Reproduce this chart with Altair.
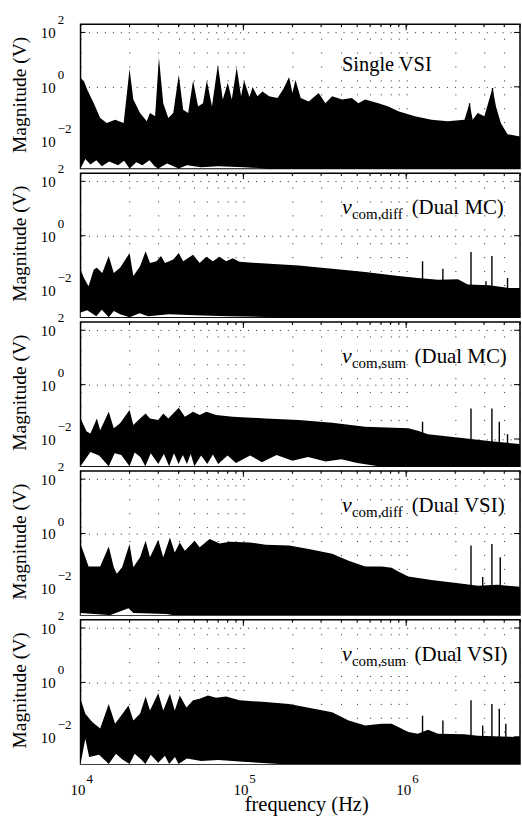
import altair as alt
import pandas as pd

# ---------------- data ----------------
# Panel 1: Single VSI (upper envelope of the spectrum)
p1_f = [10000, 10500, 11000, 12060, 13200, 14500, 16300, 18400, 20000, 21100, 23200, 25500,
        26700, 28700, 30300, 32200, 34600, 37100, 40100, 42700, 45800, 49100, 52700, 56500,
        59700, 64100, 69700, 74800, 80200, 84900, 91000, 96800, 101000, 109000, 114000, 122000,
        131000, 144000, 162000, 175000, 191000, 200000, 209000, 225000, 252000, 290000, 319000,
        351000, 404000, 464000, 509000, 560000, 675000, 777000, 894000, 1130000, 1430000,
        1800000, 2280000, 2450000, 2560000, 2750000, 3020000, 3390000, 3560000, 3810000,
        4190000, 5000000]
p1_hi = [2.1, 1.6, 0.78, 0.25, 0.072, 0.047, 0.062, 0.047, 4.5, 0.34, 0.11, 0.054,
         0.11, 0.083, 12, 0.25, 0.072, 0.11, 2.8, 0.145, 0.11, 1.7, 0.19, 0.25,
         1.7, 0.19, 6.5, 0.34, 1.4, 0.34, 5.2, 0.45, 1.7, 0.42, 0.98, 0.45,
         0.68, 0.45, 0.39, 0.78, 2.3, 0.59, 1.8, 0.39, 0.29, 0.59, 0.25,
         0.45, 0.34, 0.39, 0.25, 0.34, 0.25, 0.19, 0.126, 0.083, 0.062,
         0.054, 0.062, 0.25, 0.062, 0.11, 0.083, 0.9, 0.19, 0.047,
         0.018, 0.015]
p1_lo_f = [10000, 10700, 11500, 12500, 13500, 15000, 17000, 18500, 20000, 22000, 24000, 26500,
           28500, 30000, 34000, 40000, 45000, 55000, 70000, 100000, 140000]
p1_lo = [0.001, 0.0022, 0.0014, 0.002, 0.0012, 0.0018, 0.0013, 0.0019, 0.001, 0.0017, 0.0013, 0.002,
         0.0012, 0.001, 0.0015, 0.001, 0.0013, 0.0011, 0.0012, 0.0011, 0.001]
p1_sp_f = [2450000, 3390000]
p1_sp = [0.25, 0.9]

# Panel 2: v_com,diff (Dual MC)
p2_f = [10000, 10500, 11200, 12060, 12600, 13600, 14900, 16000, 17500, 20000, 21100, 23200,
        25100, 26700, 29300, 31200, 33000, 37100, 40100, 42700, 49100, 53900, 59200, 65000,
        71400, 78400, 86100, 94600, 137000, 219000, 351000, 560000, 894000, 1180000, 1570000,
        2080000, 2390000, 3240000, 4290000, 5000000]
p2_hi = [0.057, 0.028, 0.014, 0.057, 0.066, 0.043, 0.18, 0.043, 0.066, 0.23, 0.033, 0.076,
         0.27, 0.1, 0.116, 0.18, 0.1, 0.133, 0.23, 0.116, 0.2, 0.1, 0.17, 0.116,
         0.17, 0.116, 0.15, 0.11, 0.095, 0.08, 0.061, 0.046, 0.033, 0.028, 0.024,
         0.025, 0.016, 0.015, 0.012, 0.012]
p2_lo_f = [10000, 11000, 12500, 13500, 14900, 16000, 17500, 20000, 23000, 26000, 35000, 50000, 80000, 166000]
p2_lo = [0.0015, 0.0018, 0.0011, 0.0019, 0.001, 0.0017, 0.0013, 0.001, 0.0014, 0.0011, 0.0013, 0.0012, 0.0011, 0.001]
p2_sp_f = [1260000, 1680000, 2500000, 3090000, 3360000, 4190000]
p2_sp = [0.116, 0.061, 0.25, 0.021, 0.18, 0.028]

# Panel 3: v_com,sum (Dual MC)
p3_f = [10000, 10900, 11500, 12600, 13200, 14900, 16000, 17500, 20000, 21100, 23200, 25100,
        26700, 30000, 32200, 34600, 40100, 43700, 49100, 53900, 59200, 68100, 86100, 137000,
        219000, 351000, 560000, 1030000, 1180000, 1360000, 2280000, 2750000, 3310000, 5000000]
p3_hi = [0.057, 0.019, 0.016, 0.057, 0.021, 0.1, 0.025, 0.038, 0.116, 0.033, 0.057, 0.087,
         0.057, 0.05, 0.087, 0.057, 0.14, 0.066, 0.1, 0.076, 0.1, 0.076, 0.066, 0.057,
         0.05, 0.04, 0.028, 0.025, 0.02, 0.015, 0.0106, 0.0094, 0.0083, 0.0065]
p3_lo_f = [10000, 11500, 13000, 14900, 16200, 17800, 20000, 21500, 23300, 25000, 27000, 30000,
           32500, 35000, 37500, 40000, 42500, 45000, 47500, 50000, 55000, 60000, 65000, 70000,
           80000, 90000, 110000, 130000, 160000, 200000, 250000, 320000, 400000, 500000, 675000]
p3_lo = [0.001, 0.0033, 0.0025, 0.001, 0.003, 0.0026, 0.001, 0.0032, 0.0022, 0.001, 0.003, 0.0012,
         0.0028, 0.001, 0.003, 0.0012, 0.0026, 0.0012, 0.0028, 0.001, 0.0025, 0.0012, 0.0027, 0.0012,
         0.0025, 0.0013, 0.0025, 0.0014, 0.0026, 0.0016, 0.0022, 0.0015, 0.0018, 0.0013, 0.001]
p3_sp_f = [1260000, 2500000, 3360000, 3730000, 4190000]
p3_sp = [0.043, 0.133, 0.133, 0.043, 0.015]

# Panel 4: v_com,diff (Dual VSI)
p4_f = [10000, 10700, 11200, 13200, 14900, 16000, 16700, 18000, 20000, 21100, 23200, 25100,
        26700, 30000, 32200, 35400, 37900, 40700, 43700, 50200, 53900, 62100, 71400, 82200,
        109000, 137000, 191000, 252000, 351000, 443000, 560000, 708000, 814000, 894000,
        1030000, 1430000, 2280000, 2750000, 3640000, 5000000]
p4_hi = [0.41, 0.133, 0.061, 0.061, 0.33, 0.057, 0.033, 0.057, 0.41, 0.057, 0.133, 0.54,
         0.133, 0.59, 0.133, 0.72, 0.2, 0.47, 0.23, 0.54, 0.31, 0.63, 0.43, 0.5,
         0.47, 0.39, 0.36, 0.27, 0.18, 0.1, 0.061, 0.061, 0.055, 0.04,
         0.026, 0.0195, 0.014, 0.012, 0.013, 0.011]
p4_lo_f = [10000, 15200, 19700, 21100, 33700, 37100]
p4_lo = [0.0012, 0.001, 0.0018, 0.0012, 0.0011, 0.001]
p4_sp_f = [2500000, 2950000, 3360000, 3780000]
p4_sp = [0.36, 0.025, 0.41, 0.133]

# Panel 5: v_com,sum (Dual VSI)
p5_f = [10000, 10700, 11800, 13200, 14900, 16300, 17500, 19700, 21100, 23200, 25100, 26700,
        30000, 32200, 35400, 37900, 40700, 44700, 49100, 53900, 60600, 68100, 78400, 94600,
        137000, 191000, 252000, 351000, 443000, 560000, 708000, 814000, 894000, 1030000,
        1180000, 1360000, 1570000, 2280000, 2750000, 5000000]
p5_hi = [0.25, 0.07, 0.035, 0.02, 0.16, 0.03, 0.053, 0.14, 0.04, 0.07, 0.3, 0.093,
         0.4, 0.093, 0.38, 0.093, 0.33, 0.12, 0.22, 0.25, 0.33, 0.27, 0.3, 0.22,
         0.19, 0.16, 0.116, 0.08, 0.04, 0.026, 0.03, 0.03, 0.023, 0.015,
         0.013, 0.018, 0.013, 0.0125, 0.011, 0.0098]
p5_lo_f = [10000, 10700, 11300, 13000, 14900, 16500, 18000, 20000, 21500, 23500, 25000, 27000,
           30000, 33000, 35000, 38000, 40000, 45000, 55000, 70000, 100000, 166000]
p5_lo = [0.001, 0.0085, 0.0018, 0.0022, 0.001, 0.0024, 0.0015, 0.001, 0.0024, 0.0015, 0.001, 0.0022,
         0.0011, 0.002, 0.001, 0.0018, 0.001, 0.0016, 0.0013, 0.0014, 0.0012, 0.001]
p5_sp_f = [1260000, 1680000, 2500000, 2950000, 3360000, 3730000, 4090000]
p5_sp = [0.06, 0.04, 0.22, 0.026, 0.16, 0.107, 0.03]

# panel annotations: (italic symbol, subscript, rest)
panel_labels = [("", "", "Single VSI"),
                ("v", "com,diff", "(Dual MC)"),
                ("v", "com,sum", "(Dual MC)"),
                ("v", "com,diff", "(Dual VSI)"),
                ("v", "com,sum", "(Dual VSI)")]

y_tick_vals = [0.01, 1, 100]
y_tick_exp = ["\u22122", "0", "2"]
x_tick_vals = [1e4, 1e5, 1e6]
x_tick_exp = ["4", "5", "6"]
x_grid_vals = [k * 10 ** n for n in (4, 5, 6) for k in range(1, 10) if k * 10 ** n <= 5e6]

panels_data = [
    (p1_f, p1_hi, p1_lo_f, p1_lo, p1_sp_f, p1_sp),
    (p2_f, p2_hi, p2_lo_f, p2_lo, p2_sp_f, p2_sp),
    (p3_f, p3_hi, p3_lo_f, p3_lo, p3_sp_f, p3_sp),
    (p4_f, p4_hi, p4_lo_f, p4_lo, p4_sp_f, p4_sp),
    (p5_f, p5_hi, p5_lo_f, p5_lo, p5_sp_f, p5_sp),
]

# ---------------- chart ----------------
W, H = 442, 145
FONT = "Liberation Serif"
xscale = alt.Scale(type="log", domain=[1e4, 5e6], nice=False)
yscale = alt.Scale(type="log", domain=[1e-3, 200], nice=False)
anchor_df = pd.DataFrame({"a": [0]})


def make_panel(idx):
    f, hi, lo_f, lo, sp_f, sp = panels_data[idx]
    last = idx == 4
    xaxis_kw = dict(values=x_grid_vals, grid=True, gridDash=[1, 13], gridColor="#222",
                    gridWidth=1, labels=False, ticks=False, domain=False)
    if last:
        xaxis_kw.update(title="frequency (Hz)", titleFont=FONT, titleFontSize=20.5,
                        titleFontWeight="normal", titleColor="black",
                        titleBaseline="alphabetic", titleY=47, titleX=227)
    else:
        xaxis_kw.update(title=None)
    xaxis = alt.Axis(**xaxis_kw)
    yaxis = alt.Axis(values=y_tick_vals, grid=True, gridDash=[1, 7], gridColor="#222",
                     gridWidth=1, labels=False, ticks=False, domain=False,
                     title="Magnitude (V)", titleFont=FONT, titleFontSize=19.6,
                     titleFontWeight="normal", titleColor="black", titleAngle=270,
                     titleBaseline="alphabetic", titleAlign="center",
                     titleX=-55, titleY=H / 2 - 2)

    def X():
        return alt.X("f:Q", scale=xscale, axis=xaxis)

    def Y():
        return alt.Y("v:Q", scale=yscale, axis=yaxis, stack=None)

    hi_df = pd.DataFrame({"f": f, "v": hi})
    lo_df = pd.DataFrame({"f": lo_f, "v": lo})
    sp_df = pd.DataFrame({"f": sp_f, "v": sp})

    area = alt.Chart(hi_df).mark_area(color="black", clip=True, opacity=1).encode(
        x=X(), y=Y(), y2=alt.value(H),
    )
    white = alt.Chart(lo_df).mark_area(color="white", clip=True, opacity=1).encode(
        x=X(), y=Y(), y2=alt.value(H),
    )
    spikes = alt.Chart(sp_df).mark_rule(color="black", strokeWidth=1.4, clip=True).encode(
        x=X(), y=Y(), y2=alt.value(H),
    )

    # inward ticks (top: decades long, minors short; left/right: y decades)
    xt_major = pd.DataFrame({"f": x_tick_vals})
    xt_minor = pd.DataFrame({"f": x_grid_vals})
    top_major = alt.Chart(xt_major).mark_rule(color="black", strokeWidth=1).encode(
        x=X(), y=alt.value(0), y2=alt.value(6))
    top_minor = alt.Chart(xt_minor).mark_rule(color="black", strokeWidth=1).encode(
        x=X(), y=alt.value(0), y2=alt.value(3))
    yt = pd.DataFrame({"v": y_tick_vals, "e": y_tick_exp})
    left_t = alt.Chart(yt).mark_rule(color="black", strokeWidth=1).encode(
        y=Y(), x=alt.value(0), x2=alt.value(5))
    right_t = alt.Chart(yt).mark_rule(color="black", strokeWidth=1).encode(
        y=Y(), x=alt.value(W - 6), x2=alt.value(W))

    # y tick labels "10" with superscript exponent
    y_ten = alt.Chart(yt).mark_text(align="right", baseline="middle", font=FONT,
                                    fontSize=15, color="black", dy=1).encode(
        y=Y(), x=alt.value(-25), text=alt.value("10"))
    y_exp = alt.Chart(yt).mark_text(align="left", baseline="middle", font=FONT,
                                    fontSize=13, color="black", dy=-12).encode(
        y=Y(), x=alt.value(-23), text="e:N")

    sym, sub, rest = panel_labels[idx]
    lab = pd.DataFrame({"sym": [sym], "sub": [sub], "rest": [rest]})
    layers = [area, spikes, white, top_major, top_minor, left_t, right_t, y_ten, y_exp]
    if sym:
        layers += [
            alt.Chart(lab).mark_text(align="left", baseline="alphabetic", font=FONT,
                                     fontSize=22, fontStyle="italic", color="black").encode(
                x=alt.value(263), y=alt.value(41), text="sym:N"),
            alt.Chart(lab).mark_text(align="left", baseline="alphabetic", font=FONT,
                                     fontSize=15, color="black").encode(
                x=alt.value(273), y=alt.value(46), text="sub:N"),
            alt.Chart(lab).mark_text(align="left", baseline="alphabetic", font=FONT,
                                     fontSize=21, color="black").encode(
                x=alt.value(333 if sub == "com,diff" else 336), y=alt.value(41), text="rest:N"),
        ]
    else:
        layers += [
            alt.Chart(lab).mark_text(align="left", baseline="alphabetic", font=FONT,
                                     fontSize=20.5, color="black").encode(
                x=alt.value(263), y=alt.value(47), text="rest:N"),
        ]
    if idx == 0:
        # invisible anchor fixing the page's top-left corner (80 px left, 21 px above)
        layers.append(alt.Chart(anchor_df).mark_rule(strokeOpacity=0, strokeWidth=1).encode(
            x=alt.value(-79.5), x2=alt.value(W), y=alt.value(-20.5)))
    if last:
        xt = pd.DataFrame({"f": x_tick_vals, "e": x_tick_exp})
        layers += [
            alt.Chart(xt).mark_text(align="right", baseline="middle", font=FONT,
                                    fontSize=15, color="black", dx=5).encode(
                x=X(), y=alt.value(H + 26), text=alt.value("10")),
            alt.Chart(xt).mark_text(align="left", baseline="middle", font=FONT,
                                    fontSize=13, color="black", dx=6).encode(
                x=X(), y=alt.value(H + 15), text="e:N"),
            alt.Chart(anchor_df).mark_rule(strokeOpacity=0, strokeWidth=1).encode(
                x=alt.value(-79.5), x2=alt.value(W), y=alt.value(H + 61.5)),
        ]
    return alt.layer(*layers).properties(width=W, height=H)


chart = alt.vconcat(*[make_panel(i) for i in range(5)], spacing=4.75,
                    bounds="flush").configure_view(
    stroke="black", strokeWidth=1.5
).properties(
    padding=0,
    background="white",
)

chart.save("out.html", embed_options={"renderer": "svg", "actions": False})
